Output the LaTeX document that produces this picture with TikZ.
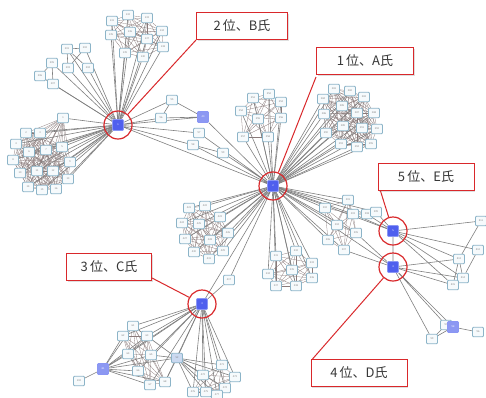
\documentclass[tikz,border=0pt]{standalone}
\usepackage{fontspec}
\setmainfont{Noto Sans CJK JP}
\usetikzlibrary{shadows}
\pgfdeclarelayer{back}
\pgfdeclarelayer{bg}
\pgfsetlayers{back,bg,main}
\definecolor{nbord}{HTML}{8CB4C8}
\definecolor{nfill}{HTML}{F6FAFC}
\definecolor{hubf}{HTML}{4F5FEE}
\definecolor{hubb}{HTML}{8A96F4}
\definecolor{lhubf}{HTML}{8C98F2}
\definecolor{sfill}{HTML}{CBD9F0}
\definecolor{ringred}{HTML}{D9282B}
\definecolor{edgec}{HTML}{808080}
\definecolor{densec}{HTML}{8A7A7A}
\tikzset{
  nd/.style={draw=nbord, fill=nfill, line width=0.8pt, rounded corners=1pt,
    minimum width=11pt, minimum height=9.5pt, inner sep=0pt,
    font=\fontsize{2.5}{2.7}\selectfont, text=gray},
  hub/.style={draw=hubb, fill=hubf, line width=0.8pt, rounded corners=1pt,
    minimum size=11pt, inner sep=0pt, font=\fontsize{2.5}{2.7}\selectfont, text=white},
  lhub/.style={hub, fill=lhubf},
  snd/.style={nd, fill=sfill},
  ring/.style={draw=ringred, line width=1.2pt, circle, minimum size=28pt, inner sep=0pt},
  lab/.style={draw=ringred, line width=1pt, fill=white,
    drop shadow={shadow xshift=1.2pt, shadow yshift=-1.2pt, opacity=0.25},
    minimum height=27pt, inner sep=0pt, font=\fontsize{13}{15}\selectfont, text=black!78},
  ed/.style={draw=edgec, line width=0.6pt},
  dense/.style={draw=densec, line width=0.28pt},
  leader/.style={draw=ringred, line width=1pt}
}
\newcommand\mycluster[3]{%
  \foreach \x/\y [count=\k] in {#3}{%
    \pgfmathtruncatemacro\lbl{#2+\k}%
    \node[nd] (#1\k) at (\x,\y) {\lbl};}}
\newcommand\mycomplete[2]{%
  \foreach \i in {1,...,#2}{\foreach \j in {1,...,#2}{%
    \ifnum\j>\i \draw[dense] (#1\i) -- (#1\j);\fi}}}
\newcommand\mystar[3]{%
  \foreach \k in {1,...,#3}{\draw[ed] (#1) -- (#2\k);}}
\begin{document}
\begin{tikzpicture}[x=1pt,y=-1pt]
\useasboundingbox (0,0) rectangle (486,397);
\begin{pgfonlayer}{back}
\fill[white] (0,0) rectangle (486,397);
\end{pgfonlayer}

% hubs
\node[hub] (B) at (118,125) {1};
\node[hub] (A) at (273,186) {2};
\node[hub] (C) at (202,304) {3};
\node[hub] (E) at (393,231) {5};
\node[hub] (D) at (393,267) {4};
\node[lhub] (Q) at (203,117) {40};
\node[lhub] (Q3) at (103,369) {81};
\node[snd] (S2) at (177,358) {52};

% clusters
\mycluster{bt}{130}{112/21,128/15,147/18,162/31,111/35,130/32,147/39,163/47,125/53,143/57}
\mycluster{bl}{200}{67/49,85/48,68/68,88/68,52/63,40/76,53/84}
\mycluster{bd}{0}{63/118,26/133,40/133,16/144,62/147,29/152,46/150,13/160,70/162,20/173,37/171,53/171,68/179,28/187,42/190,56/189}
\mycluster{br}{94}{172/100,161/118,199/133,193/145,223/153}
\mycluster{at}{250}{253/98,269/94,281/102,241/111,258/119,281/118,243/137,268/137}
\mycluster{ar}{280}{334/89,350/91,364/97,323/99,342/106,324/114,357/113,374/113,343/126,326/133,362/128,377/129,341/144,357/147,371/144}
\mycluster{abl}{420}{189/208,205/206,220/217,182/223,199/224,228/233,185/239,210/240,223/251,194/252,209/259}
\mycluster{ab}{230}{276/256,296/251,312/263,268/274,292/270,312/278,276/286,296/286}
\mycluster{ax}{300}{348/200,325/208,353/214,337/225,356/233,328/240,344/250,367/214,376/212}
\mycluster{cl}{60}{133/326,123/336,147/336,128/354,151/355,138/371,150/385,165/382}
\mycluster{cb}{470}{222/365,203/375,235/377,225/388,206/392,193/392,217/395}
\mycluster{er}{510}{481/221,478/250,459/259,463/278,453/285}
\node[nd] (m) at (229,280) {417};
\node[nd] (tp) at (79,381) {102};
\node[nd] (d1) at (446,325) {97};
\node[nd] (d2) at (432,339) {99};
\node[nd] (d3) at (478,332) {96};
\node[lhub] (Q4) at (453,327) {98};

\begin{pgfonlayer}{bg}
  % dense inner links
  \mycomplete{bt}{10}
  \mycomplete{bd}{16}
  \mycomplete{at}{8}
  \mycomplete{ar}{15}
  \mycomplete{abl}{11}
  \mycomplete{ab}{8}
  \mycomplete{ax}{7}
  \mycomplete{cl}{8}
  \mycomplete{cb}{7}
  \draw[ed] (bl1) -- (bl2) (bl1) -- (bl4) (bl2) -- (bl3) (bl5) -- (bl6) (bl5) -- (bl7) (bl1) -- (bl3);
  % hub stars
  \mystar{B}{bt}{10}
  \mystar{B}{bl}{7}
  \mystar{B}{bd}{16}
  \mystar{A}{at}{8}
  \mystar{A}{ar}{15}
  \mystar{A}{abl}{11}
  \mystar{A}{ab}{8}
  \mystar{A}{ax}{9}
  \mystar{C}{cl}{8}
  \mystar{C}{cb}{7}
  \mystar{E}{er}{5}
  \draw[ed] (B) -- (br1) (B) -- (br2) (br1) -- (Q) (br2) -- (Q) (br1) -- (br2)
            (B) -- (Q) (Q) -- (A) (B) -- (br3) (B) -- (br4) (br3) -- (A) (br4) -- (A)
            (B) -- (br5) (br5) -- (A) (B) -- (A);
  \draw[ed] (A) -- (m) (m) -- (C) (A) -- (C) (A) -- (E) (A) -- (D);
  \draw[ed] (E) -- (D) (E) -- (ax8) (E) -- (ax9) (E) -- (ax3) (D) -- (ax5) (D) -- (ax7)
            (ax8) -- (ax9) (ax3) -- (ax8);
  \draw[ed] (D) -- (er3) (D) -- (er4) (D) -- (er5) (er2) -- (er4) (er3) -- (er4)
            (er3) -- (er5) (er1) -- (er3);
  \draw[ed] (D) -- (d1) (D) -- (Q4) (D) -- (d2) (Q4) -- (d3) (d2) -- (Q4) (d1) -- (d2);
  \draw[ed] (Q3) -- (tp) (C) -- (Q3) (C) -- (S2) (Q3) -- (S2);
  \foreach \k in {1,...,8}{\draw[ed] (Q3) -- (cl\k);}
  \foreach \k in {1,...,7}{\draw[ed] (S2) -- (cb\k);}
  \draw[ed] (S2) -- (cl3) (S2) -- (cl5) (S2) -- (cl8) (S2) -- (cl1);
\end{pgfonlayer}

% rings
\node[ring] (rB) at (B) {};
\node[ring] (rA) at (A) {};
\node[ring] (rC) at (C) {};
\node[ring] (rE) at (E) {};
\node[ring] (rD) at (D) {};

% labels
\node[lab, minimum width=91pt] (lB) at (242,26) {2\,位、B氏};
\node[lab, minimum width=97pt] (lA) at (365,61) {1\,位、A氏};
\node[lab, minimum width=96pt] (lE) at (426,177) {5\,位、E氏};
\node[lab, minimum width=96pt] (lD) at (359,373) {4\,位、D氏};
\node[lab, minimum width=85pt] (lC) at (109,267) {3\,位、C氏};

\begin{pgfonlayer}{bg}
  \draw[leader] (lB.south west) -- (rB);
  \draw[leader] ([yshift=-2pt]lA.south west) -- (rA);
  \draw[leader] ([xshift=3pt]lE.south west) -- (rE);
  \draw[leader] ([xshift=2pt]lD.north west) -- (rD);
  \draw[leader] ([yshift=3pt]lC.south east) -- (rC);
\end{pgfonlayer}
\end{tikzpicture}
\end{document}
